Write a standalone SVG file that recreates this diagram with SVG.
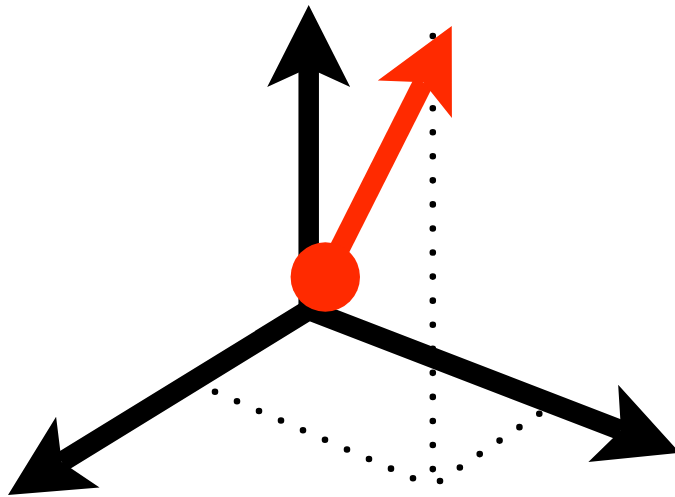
<svg xmlns="http://www.w3.org/2000/svg" width="675" height="497" viewBox="0 0 675 497">
  <style>
    .dots { fill: none; stroke: #000; stroke-width: 6.6; stroke-linecap: round; }
    .axis { fill: none; stroke: #000; stroke-width: 20.5; stroke-linejoin: miter; }
    .vec { fill: none; stroke: #ff2a00; stroke-width: 20.5; }
  </style>
  <defs>
    <marker id="headBlack" markerUnits="userSpaceOnUse" viewBox="-90 -50 100 100" markerWidth="100" markerHeight="100" refX="-63" refY="0" orient="auto-start-reverse" overflow="visible">
      <path d="M0,0 L-82,-41.5 L-63,0 L-82,41.5 Z" fill="#000"/>
    </marker>
    <marker id="headRed" markerUnits="userSpaceOnUse" viewBox="-90 -50 100 100" markerWidth="100" markerHeight="100" refX="-63" refY="0" orient="auto" overflow="visible">
      <path d="M0,0 L-82,-41.5 L-63,0 L-82,41.5 Z" fill="#ff2a00"/>
    </marker>
  </defs>
  <rect width="675" height="497" fill="#fff"/>
  <g id="projection">
    <path class="dots" d="M432.8,36 L432.8,469.5" stroke-dasharray="0 24.06"/>
    <path class="dots" d="M215,391.7 L413,478.3" stroke-dasharray="0 24.01"/>
    <path class="dots" d="M440,481 L539.3,413.7" stroke-dasharray="0 23.99"/>
  </g>
  <g id="connectors">
    <path id="axis-horizontal" class="axis" d="M61.66,461.99 L308.7,310 L621,430.2" marker-start="url(#headBlack)" marker-end="url(#headBlack)"/>
    <path id="axis-vertical" class="axis" d="M308.7,312 L308.7,68" marker-end="url(#headBlack)"/>
    <path id="vector" class="vec" d="M325.3,277 L423.4,82.3" marker-end="url(#headRed)"/>
  </g>
  <g id="origin">
    <circle cx="325.3" cy="277" r="34.7" fill="#ff2a00"/>
  </g>
</svg>
